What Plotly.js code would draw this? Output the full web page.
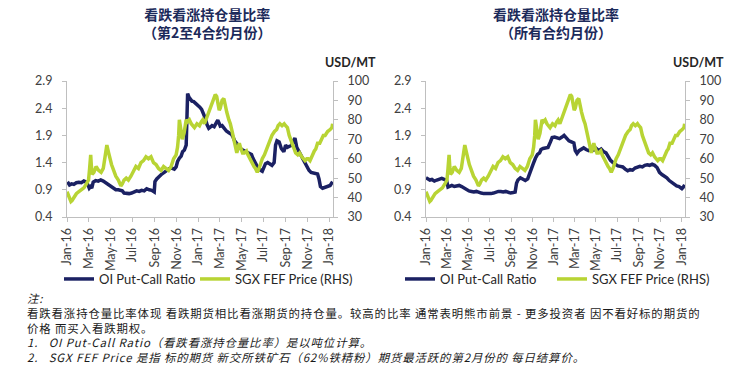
<!DOCTYPE html>
<html>
<head>
<meta charset="utf-8">
<script src="https://cdn.plot.ly/plotly-3.0.1.min.js"></script>
<style>
html,body{margin:0;padding:0;background:#fff;}
#chart{width:748px;height:374px;}
g.annotation[data-index="4"] text{letter-spacing:0.9px;}
</style>
</head>
<body>
<div id="chart"></div>
<script>
// ---------- DATA ----------
const tickDates = ['2016-01-01','2016-03-01','2016-05-01','2016-07-01','2016-09-01','2016-11-01',
  '2017-01-01','2017-03-01','2017-05-01','2017-07-01','2017-09-01','2017-11-01','2018-01-01'];
const tickLabels = ['Jan-16','Mar-16','May-16','Jul-16','Sep-16','Nov-16','Jan-17','Mar-17','May-17','Jul-17','Sep-17','Nov-17','Jan-18'];
const ratioTicks = [0.4, 0.9, 1.4, 1.9, 2.4, 2.9];
const priceTicks = [30, 40, 50, 60, 70, 80, 90, 100];

// SGX FEF price (USD/MT), shared by both charts
const fefDates = ['2016-01-01','2016-01-06','2016-01-12','2016-01-15','2016-01-20','2016-01-27','2016-02-03','2016-02-10','2016-02-17','2016-02-24',
  '2016-03-01','2016-03-04','2016-03-07','2016-03-09','2016-03-11','2016-03-16','2016-03-22','2016-03-29','2016-04-05','2016-04-11',
  '2016-04-15','2016-04-21','2016-04-26','2016-04-29','2016-05-04','2016-05-10','2016-05-16','2016-05-23','2016-05-30','2016-06-03',
  '2016-06-08','2016-06-14','2016-06-20','2016-06-27','2016-07-04','2016-07-11','2016-07-18','2016-07-25','2016-08-01','2016-08-08',
  '2016-08-15','2016-08-22','2016-08-29','2016-09-05','2016-09-12','2016-09-19','2016-09-26','2016-10-03','2016-10-10','2016-10-17',
  '2016-10-24','2016-10-31','2016-11-04','2016-11-07','2016-11-09','2016-11-14','2016-11-17','2016-11-22','2016-11-28','2016-12-02',
  '2016-12-07','2016-12-12','2016-12-16','2016-12-21','2016-12-28','2017-01-04','2017-01-09','2017-01-13','2017-01-18','2017-01-24',
  '2017-01-30','2017-02-03','2017-02-08','2017-02-13','2017-02-17','2017-02-21','2017-02-24','2017-02-28','2017-03-03','2017-03-08',
  '2017-03-13','2017-03-16','2017-03-21','2017-03-27','2017-03-31','2017-04-05','2017-04-10','2017-04-13','2017-04-18','2017-04-21',
  '2017-04-25','2017-04-28','2017-05-04','2017-05-09','2017-05-15','2017-05-19','2017-05-24','2017-05-30','2017-06-05','2017-06-09',
  '2017-06-14','2017-06-19','2017-06-23','2017-06-28','2017-07-04','2017-07-10','2017-07-14','2017-07-19','2017-07-25','2017-08-01',
  '2017-08-07','2017-08-11','2017-08-16','2017-08-22','2017-08-28','2017-09-01','2017-09-06','2017-09-11','2017-09-15','2017-09-20',
  '2017-09-25','2017-09-29','2017-10-05','2017-10-10','2017-10-16','2017-10-20','2017-10-25','2017-10-30','2017-11-03','2017-11-08',
  '2017-11-14','2017-11-20','2017-11-24','2017-11-29','2017-12-05','2017-12-11','2017-12-15','2017-12-20','2017-12-27','2018-01-03',
  '2018-01-08','2018-01-10'];
const fefPrice = [43,41,38,38.5,40,42,43,44,45,47,
  49,55,62,56,52,53,56,54,53,55,
  60,67,63,60,57,54,51,49,46,47,
  49,50,49,51,54,56,55,58,59,61,
  60,61,58,57,55,54,56,55,54,56,
  60,62,66,72,80,74,70,73,80,79,
  80,78,77,76,78,77,79,80,78,81,
  84,86,89,91,93,92,88,85,86,90,
  91,88,84,80,78,74,70,67,63,65,
  68,66,63,63,64,62,60,58,56,55,
  53,55,58,60,62,65,66,69,72,74,
  75,77,78,77,78,77,76,72,70,67,
  64,63,62,63,61,60,59,60,60,59,
  62,64,65,68,68,70,72,72,74,75,76,
  78,77];

// OI put-call ratio, 2nd-4th contract months
const r24Dates = ['2016-01-01','2016-01-05','2016-01-08','2016-01-14','2016-01-20','2016-01-27','2016-02-03','2016-02-10','2016-02-17','2016-02-24',
  '2016-02-29','2016-03-03','2016-03-07','2016-03-10','2016-03-14','2016-03-21','2016-03-28','2016-04-04','2016-04-11','2016-04-18',
  '2016-04-25','2016-05-02','2016-05-09','2016-05-16','2016-05-23','2016-05-30','2016-06-03','2016-06-08','2016-06-15','2016-06-22',
  '2016-06-29','2016-07-06','2016-07-13','2016-07-20','2016-07-27','2016-08-03','2016-08-10','2016-08-17','2016-08-24','2016-08-31',
  '2016-09-02','2016-09-07','2016-09-14','2016-09-21','2016-09-28','2016-10-05','2016-10-12','2016-10-19','2016-10-26','2016-10-31',
  '2016-11-04','2016-11-09','2016-11-14','2016-11-18','2016-11-23','2016-11-28','2016-11-30','2016-12-02','2016-12-06','2016-12-09',
  '2016-12-14','2016-12-19','2016-12-23','2016-12-29','2017-01-05','2017-01-10','2017-01-16','2017-01-20','2017-01-25','2017-01-30',
  '2017-02-03','2017-02-08','2017-02-14','2017-02-20','2017-02-24','2017-02-28','2017-03-03','2017-03-08','2017-03-14','2017-03-20',
  '2017-03-27','2017-04-03','2017-04-07','2017-04-12','2017-04-18','2017-04-25','2017-05-02','2017-05-09','2017-05-16','2017-05-23',
  '2017-05-29','2017-06-02','2017-06-07','2017-06-13','2017-06-19','2017-06-23','2017-06-28','2017-07-03','2017-07-07','2017-07-13',
  '2017-07-19','2017-07-25','2017-07-31','2017-08-04','2017-08-08','2017-08-14','2017-08-20','2017-08-27','2017-09-01','2017-09-06',
  '2017-09-12','2017-09-18','2017-09-23','2017-09-27','2017-10-02','2017-10-08','2017-10-14','2017-10-20','2017-10-26','2017-10-31',
  '2017-11-05','2017-11-11','2017-11-17','2017-11-23','2017-11-29','2017-12-03','2017-12-07','2017-12-13','2017-12-19','2017-12-24',
  '2017-12-29','2018-01-03','2018-01-07','2018-01-10'];
const ratio24 = [1.00,1.02,0.99,1.01,1.00,1.03,1.04,1.03,1.06,1.04,
  0.98,0.93,0.96,0.93,1.04,1.07,1.06,1.08,1.06,1.03,
  1.00,0.97,0.93,0.90,0.90,0.89,0.88,0.84,0.83,0.83,
  0.84,0.86,0.88,0.87,0.89,0.88,0.92,0.90,0.89,0.86,
  1.05,1.10,1.15,1.19,1.22,1.25,1.29,1.30,1.28,1.32,
  1.42,1.48,1.52,1.60,1.63,1.72,2.55,2.67,2.60,2.58,
  2.53,2.52,2.50,2.47,2.42,2.38,2.30,2.22,2.10,2.03,
  2.05,2.08,2.06,2.12,2.18,2.12,2.07,2.08,2.02,1.98,
  1.95,1.92,1.88,1.80,1.75,1.68,1.64,1.62,1.60,1.58,
  1.55,1.48,1.40,1.34,1.30,1.26,1.24,1.30,1.38,1.40,
  1.37,1.35,1.40,1.72,1.80,1.78,1.66,1.60,1.72,1.68,
  1.70,1.72,1.80,1.85,1.68,1.60,1.52,1.45,1.38,1.32,
  1.26,1.22,1.21,1.20,1.19,1.10,0.96,0.93,0.94,0.95,
  0.96,0.98,1.02,1.05];

// OI put-call ratio, all contract months
const rAllDates = ['2016-01-01','2016-01-06','2016-01-12','2016-01-18','2016-01-25','2016-02-01','2016-02-08','2016-02-15','2016-02-22','2016-02-29',
  '2016-03-04','2016-03-09','2016-03-15','2016-03-22','2016-03-29','2016-04-05','2016-04-12','2016-04-19','2016-04-26','2016-05-03',
  '2016-05-10','2016-05-17','2016-05-24','2016-05-31','2016-06-07','2016-06-14','2016-06-21','2016-06-28','2016-07-05','2016-07-12',
  '2016-07-19','2016-07-26','2016-08-02','2016-08-09','2016-08-16','2016-08-23','2016-08-30','2016-09-06','2016-09-12','2016-09-16',
  '2016-09-20','2016-09-27','2016-10-04','2016-10-11','2016-10-18','2016-10-24','2016-10-28','2016-11-03','2016-11-09','2016-11-15',
  '2016-11-21','2016-11-25','2016-12-01','2016-12-08','2016-12-15','2016-12-22','2016-12-27','2017-01-03','2017-01-10','2017-01-17',
  '2017-01-24','2017-01-30','2017-02-06','2017-02-13','2017-02-20','2017-02-27','2017-03-03','2017-03-08','2017-03-14','2017-03-20',
  '2017-03-27','2017-04-03','2017-04-10','2017-04-18','2017-04-25','2017-05-02','2017-05-09','2017-05-16','2017-05-23','2017-05-30',
  '2017-06-06','2017-06-12','2017-06-19','2017-06-26','2017-07-03','2017-07-10','2017-07-17','2017-07-24','2017-07-31','2017-08-07',
  '2017-08-14','2017-08-21','2017-08-28','2017-09-04','2017-09-11','2017-09-18','2017-09-25','2017-10-02','2017-10-09','2017-10-16',
  '2017-10-23','2017-10-30','2017-11-06','2017-11-13','2017-11-20','2017-11-27','2017-12-04','2017-12-11','2017-12-18','2017-12-25',
  '2018-01-02','2018-01-06','2018-01-10'];
const ratioAll = [1.12,1.10,1.08,1.09,1.06,1.08,1.10,1.11,1.09,1.07,
  0.95,0.96,0.98,0.96,0.97,0.98,0.96,0.93,0.90,0.88,
  0.87,0.86,0.87,0.85,0.84,0.83,0.83,0.82,0.83,0.84,
  0.86,0.87,0.87,0.86,0.87,0.85,0.84,0.85,0.86,1.02,
  1.08,1.12,1.09,1.07,1.10,1.22,1.30,1.38,1.48,1.55,
  1.58,1.64,1.66,1.67,1.68,1.78,1.86,1.87,1.86,1.84,
  1.87,1.90,1.85,1.80,1.78,1.76,1.62,1.57,1.62,1.65,
  1.67,1.64,1.62,1.65,1.63,1.66,1.62,1.65,1.60,1.58,
  1.50,1.44,1.40,1.36,1.34,1.33,1.32,1.28,1.25,1.27,
  1.26,1.30,1.31,1.33,1.32,1.35,1.36,1.35,1.37,1.35,
  1.31,1.22,1.18,1.15,1.12,1.07,1.03,1.00,0.97,0.96,
  0.92,0.95,0.99];

const seriesNames = ['OI Put-Call Ratio', 'SGX FEF Price (RHS)'];
const chartTitles = ['<b>看跌看涨持仓量比率</b><br><b>（第2至4合约月份）</b>', '<b>看跌看涨持仓量比率</b><br><b>（所有合约月份）</b>'];
const unitLabel = 'USD/MT';
const noteLines = [
  '<i>注:</i>',
  '看跌看涨持仓量比率体现 看跌期货相比看涨期货的持仓量。较高的比率 通常表明熊市前景 - 更多投资者 因不看好标的期货的',
  '价格 而买入看跌期权。',
  '<i>1.   OI Put-Call Ratio（看跌看涨持仓量比率）是以吨位计算。</i>',
  '<i>2.   SGX FEF Price 是指 标的期货 新交所铁矿石（62%铁精粉）期货最活跃的第2月份的 每日结算价。</i>'
];

// ---------- STYLE ----------
const W = 748, H = 374;
const BLUE = '#1b2163', GREEN = '#b8d434';
const px = v => v / W, py = v => 1 - v / H;
const tickFont = {family: 'Lato, "Open Sans", sans-serif', size: 12.5, color: '#404040'};
const axisCommon = {showgrid: false, zeroline: false, showline: true, linecolor: '#bfbfbf', linewidth: 1,
  ticks: 'outside', ticklen: 4, tickcolor: '#bfbfbf', tickfont: tickFont, fixedrange: true};
const yDom = [py(217), py(81)];
const xRange = ['2016-01-01', '2018-01-11'];

function xAxis(dom, anchor) {
  return Object.assign({}, axisCommon, {domain: dom, anchor: anchor, type: 'date', range: xRange,
    tickmode: 'array', tickvals: tickDates, ticktext: tickLabels, tickangle: -90, ticklabelstandoff: 1});
}
function yLeft(anchor) {
  return Object.assign({}, axisCommon, {domain: yDom, anchor: anchor, range: [0.4, 2.9],
    tickmode: 'array', tickvals: ratioTicks, ticktext: ratioTicks.map(v => v.toFixed(1)), ticklabelstandoff: 7});
}
function yRight(overlay, anchor) {
  return Object.assign({}, axisCommon, {overlaying: overlay, anchor: anchor, side: 'right', range: [30, 100],
    tickmode: 'array', tickvals: priceTicks, ticklabelstandoff: 7});
}

const lineW = 3.5;
const traces = [
  {x: r24Dates, y: ratio24, xaxis: 'x', yaxis: 'y', type: 'scatter', mode: 'lines', name: seriesNames[0],
    line: {color: BLUE, width: lineW}, legend: 'legend'},
  {x: fefDates, y: fefPrice, xaxis: 'x', yaxis: 'y2', type: 'scatter', mode: 'lines', name: seriesNames[1],
    line: {color: GREEN, width: lineW}, legend: 'legend2'},
  {x: rAllDates, y: ratioAll, xaxis: 'x2', yaxis: 'y3', type: 'scatter', mode: 'lines', name: seriesNames[0],
    line: {color: BLUE, width: lineW}, legend: 'legend3'},
  {x: fefDates, y: fefPrice, xaxis: 'x2', yaxis: 'y4', type: 'scatter', mode: 'lines', name: seriesNames[1],
    line: {color: GREEN, width: lineW}, legend: 'legend4'}
];

const legFont = {family: 'Lato, "Open Sans", sans-serif', size: 13, color: '#262626'};
function leg(xp) {
  return {x: px(xp), xanchor: 'left', y: py(279), yanchor: 'middle', orientation: 'h', font: legFont,
    bgcolor: 'rgba(0,0,0,0)', borderwidth: 0, itemclick: false, itemdoubleclick: false};
}

const titleFont = {family: '"Noto Sans CJK SC", sans-serif', size: 14, color: '#1c2a5a'};
const noteFont = {family: '"Noto Sans CJK SC", sans-serif', size: 11.4, color: '#1a1a1a'};
const annotations = [
  {text: chartTitles[0], x: px(207), y: py(23), xref: 'paper', yref: 'paper', xanchor: 'center', yanchor: 'middle', showarrow: false, font: titleFont},
  {text: chartTitles[1], x: px(556), y: py(23), xref: 'paper', yref: 'paper', xanchor: 'center', yanchor: 'middle', showarrow: false, font: titleFont},
  {text: '<b>' + unitLabel + '</b>', x: px(350), y: py(62), xref: 'paper', yref: 'paper', xanchor: 'center', yanchor: 'middle', showarrow: false,
    font: {family: 'Lato, sans-serif', size: 12.5, color: '#262626'}},
  {text: '<b>' + unitLabel + '</b>', x: px(698), y: py(62), xref: 'paper', yref: 'paper', xanchor: 'center', yanchor: 'middle', showarrow: false,
    font: {family: 'Lato, sans-serif', size: 12.5, color: '#262626'}},
  {text: noteLines.join('<br>'), x: px(25), y: py(288), xref: 'paper', yref: 'paper',
    xanchor: 'left', yanchor: 'top', showarrow: false, align: 'left', font: noteFont}
];

const layout = {
  width: W, height: H, margin: {l: 0, r: 0, t: 0, b: 0}, paper_bgcolor: '#fff', plot_bgcolor: '#fff',
  showlegend: true,
  xaxis: xAxis([px(67), px(333)], 'y'),
  yaxis: yLeft('x'),
  yaxis2: yRight('y', 'x'),
  xaxis2: xAxis([px(426), px(685)], 'y3'),
  yaxis3: yLeft('x2'),
  yaxis4: yRight('y3', 'x2'),
  legend: leg(59), legend2: leg(195), legend3: leg(400), legend4: leg(552),
  annotations: annotations
};

Plotly.newPlot('chart', traces, layout, {displayModeBar: false, staticPlot: true});
</script>
</body>
</html>
